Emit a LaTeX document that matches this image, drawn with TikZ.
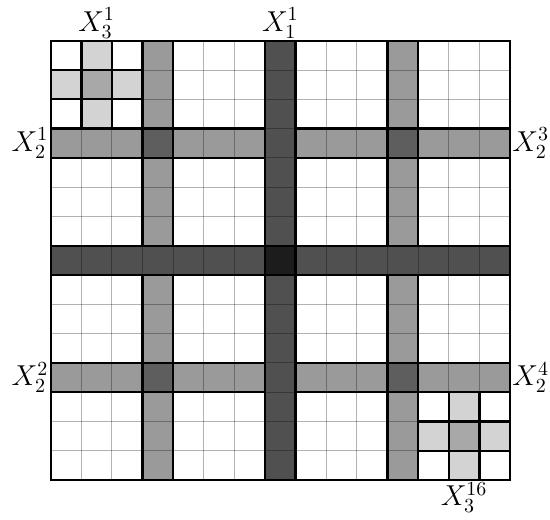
\documentclass[tikz,border=0pt]{standalone}
\usepackage{amsmath,amssymb}
\usepackage{xcolor}
\usepackage{tikz}
\usetikzlibrary{positioning}

\definecolor{crossarm}{HTML}{D3D3D3}
\definecolor{crossmid}{HTML}{A8A8A8}
\definecolor{subband}{HTML}{9A9A9A}
\definecolor{subcross}{HTML}{5E5E5E}
\definecolor{mainband}{HTML}{505050}
\definecolor{maincross}{HTML}{1C1C1C}

\begin{document}
\begin{tikzpicture}[
  x=15.31pt, y=-14.645pt,
  gridline/.style={black, opacity=0.3, line width=0.5pt},
  outline/.style={draw=black, line width=1.2pt},
  varlabel/.style={font=\fontsize{14}{17}\selectfont, inner sep=1pt}
]
\useasboundingbox (-1.656,-1.39) rectangle (16.306,16.33);

% Sub bands
\foreach \a in {3,11} {
  \fill[subband] (\a,0) rectangle ++(1,7);
  \fill[subband] (\a,8) rectangle ++(1,7);
  \fill[subband] (0,\a) rectangle ++(7,1);
  \fill[subband] (8,\a) rectangle ++(7,1);
}
\foreach \a in {3,11}
  \foreach \b in {3,11}
    \fill[subcross] (\a,\b) rectangle ++(1,1);

% Main bands
\fill[mainband] (7,0) rectangle (8,15);
\fill[mainband] (0,7) rectangle (15,8);
\fill[maincross] (7,7) rectangle (8,8);

% Crosses
\foreach \c in {1,13} {
  \fill[crossmid] (\c,\c) rectangle ++(1,1);
  \foreach \dx/\dy in {-1/0,1/0,0/-1,0/1}
    \fill[crossarm] (\c+\dx,\c+\dy) rectangle ++(1,1);
}

% Grid
\foreach \i in {1,...,14} {
  \draw[gridline] (\i,0) -- (\i,15);
  \draw[gridline] (0,\i) -- (15,\i);
}

% Outlines
\foreach \a in {3,11} {
  \draw[outline] (\a,0) rectangle ++(1,7);
  \draw[outline] (\a,8) rectangle ++(1,7);
  \draw[outline] (0,\a) rectangle ++(7,1);
  \draw[outline] (8,\a) rectangle ++(7,1);
}
\draw[outline] (7,0) rectangle (8,15);
\draw[outline] (0,7) rectangle (15,8);
\foreach \c in {1,13} {
  \draw[outline] (\c,\c) rectangle ++(1,1);
  \foreach \dx/\dy in {-1/0,1/0,0/-1,0/1}
    \draw[outline] (\c+\dx,\c+\dy) rectangle ++(1,1);
}
\draw[outline] (0,0) rectangle (15,15);

% Labels
\node[varlabel, above] (x31) at (1.5,0) {$X_3^1$};
\node[varlabel, above] (x11) at (7.5,0) {$X_1^1$};
\node[varlabel, left] (x21) at (0,3.5) {$X_2^1$};
\node[varlabel, right] (x23) at (15,3.5) {$X_2^3$};
\node[varlabel, left] (x22) at (0,11.5) {$X_2^2$};
\node[varlabel, right] (x24) at (15,11.5) {$X_2^4$};
\node[varlabel, below] (x316) at (13.5,15) {$X_3^{16}$};

\end{tikzpicture}
\end{document}
